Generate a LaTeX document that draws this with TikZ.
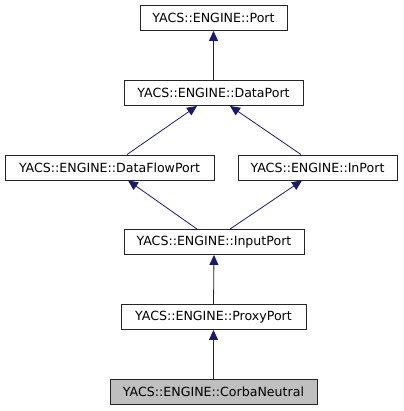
\documentclass[tikz,border=0pt]{standalone}
\usepackage{fontspec}
\setmainfont{DejaVu Sans}
\usetikzlibrary{arrows.meta}
\definecolor{edgeblue}{RGB}{25,25,112}
\begin{document}
\begin{tikzpicture}[x=1pt,y=-1pt,
  cls/.style={draw=black!85, line width=0.9pt, fill=white, inner sep=0pt, font=\fontsize{12.6}{15}\selectfont, minimum height=25pt},
  cur/.style={cls, fill=black!25},
  inh/.style={draw=edgeblue, line width=0.8pt, -{Triangle[length=10pt,width=9pt,fill=edgeblue]}}
]
\useasboundingbox (0,0) rectangle (403,411);
\node[cls, minimum width=147pt] (port) at (213.5,18) {YACS::ENGINE::Port};
\node[cls, minimum width=179pt] (dp) at (213.5,93) {YACS::ENGINE::DataPort};
\node[cls, minimum width=209pt] (dfp) at (109.5,167.5) {YACS::ENGINE::DataFlowPort};
\node[cls, minimum width=159pt] (inp) at (317.5,167.5) {YACS::ENGINE::InPort};
\node[cls, minimum width=180pt] (ip) at (214,242) {YACS::ENGINE::InputPort};
\node[cls, minimum width=185pt] (pp) at (213.5,317) {YACS::ENGINE::ProxyPort};
\node[cur, minimum width=207pt] (cn) at (213.5,391.5) {YACS::ENGINE::CorbaNeutral};
\draw[inh] (dp.north) -- (port.south);
\draw[inh] ([xshift=17.5pt]dfp.north) -- ([xshift=-16.5pt]dp.south);
\draw[inh] ([xshift=-16.5pt]inp.north) -- ([xshift=16.5pt]dp.south);
\draw[inh] ([xshift=-17pt]ip.north) -- ([xshift=18.5pt]dfp.south);
\draw[inh] ([xshift=16pt]ip.north) -- ([xshift=-15.5pt]inp.south);
\draw[inh] (pp.north) -- (ip.south);
\draw[inh] (cn.north) -- (pp.south);
\end{tikzpicture}
\end{document}
